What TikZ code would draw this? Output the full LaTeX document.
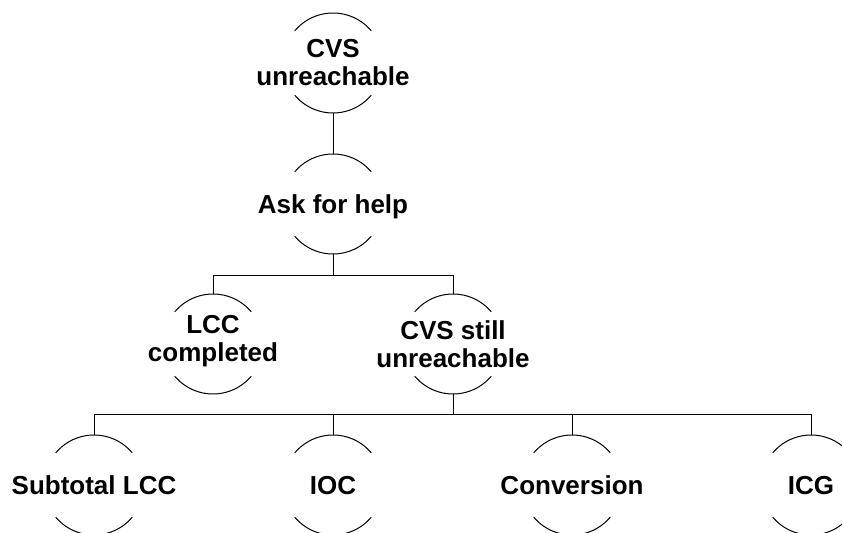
\documentclass[tikz,border=0pt]{standalone}
\usepackage{fontspec}
\setmainfont{Liberation Sans}
\begin{document}
\begin{tikzpicture}[x=1pt,y=-1pt,
  line width=1pt,
  lbl/.style={font=\fontsize{26}{28}\selectfont\bfseries, align=center, inner sep=0pt},
  one/.style={lbl, text height=19pt, text depth=0pt},
  two/.style={lbl}]
\useasboundingbox (0,0) rectangle (842,532);
\clip (0,0) rectangle (842,532);
% nodes
\node[two] (cvs)   at (333,63)  {CVS\\unreachable};
\node[one] (ask)   at (333,204) {Ask for help};
\node[two] (lcc)   at (213,341.5) {LCC\\completed};
\node[two] (still) at (453,344) {CVS still\\unreachable};
\node[one] (sub)   at (94,485)  {Subtotal LCC};
\node[one] (ioc)   at (333,485) {IOC};
\node[one] (conv)  at (572,485) {Conversion};
\node[one] (icg)   at (811,485) {ICG};
% half-circle arcs
\foreach \n/\cy in {cvs/63,ask/204,lcc/344,still/344,sub/485,ioc/485,conv/485,icg/485}{
  \coordinate (\n-c) at (\n.center |- 0,\cy);
  \draw ([shift={(40:50pt)}]\n-c) arc (40:140:50pt);
  \draw ([shift={(220:50pt)}]\n-c) arc (220:320:50pt);
  \coordinate (\n-t) at ([yshift=50pt]\n-c);
  \coordinate (\n-b) at ([yshift=-50pt]\n-c);
}
% connectors
\draw (cvs-b) -- (ask-t);
\draw (ask-b) -- ++(0,21) coordinate (bus1);
\draw (bus1) -| (lcc-t);
\draw (bus1) -| (still-t);
\draw (still-b) -- ++(0,20) coordinate (bus2);
\foreach \n in {sub,ioc,conv,icg}{\draw (bus2) -| (\n-t);}
\end{tikzpicture}
\end{document}
